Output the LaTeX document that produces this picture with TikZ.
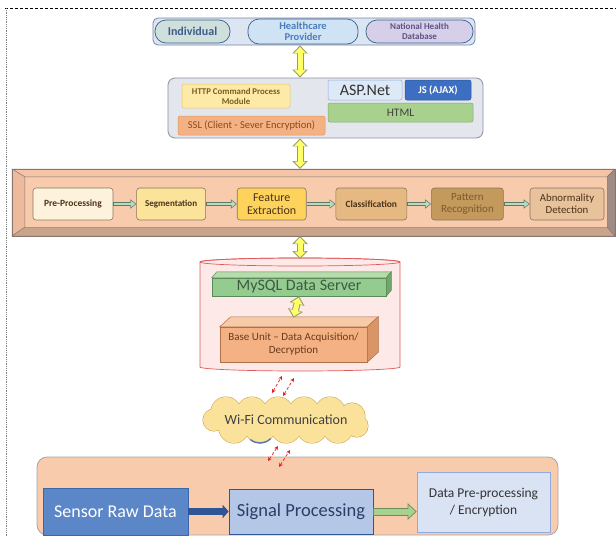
\documentclass[tikz,border=0pt]{standalone}
\usepackage{fontspec}
\setmainfont{Carlito}
\usepackage{xcolor}
\usepackage{tikz}
\usetikzlibrary{arrows.meta}
\usetikzlibrary{positioning}
\usetikzlibrary{shapes}
\usetikzlibrary{calc}

\definecolor{barfill}{HTML}{DCE6F2}
\definecolor{barline}{HTML}{6F87A8}
\definecolor{pillline}{HTML}{3F5D8A}
\definecolor{indfill}{HTML}{CFDFDB}
\definecolor{hcfill}{HTML}{CFE3F5}
\definecolor{hctext}{HTML}{4A7EBB}
\definecolor{nhfill}{HTML}{D6CFE9}
\definecolor{nhtext}{HTML}{5C5383}
\definecolor{webfill}{HTML}{E4E6EE}
\definecolor{webline}{HTML}{8A8F9E}
\definecolor{httpfill}{HTML}{FDE9A8}
\definecolor{httpline}{HTML}{E2C46A}
\definecolor{httptext}{HTML}{7B5D1C}
\definecolor{sslfill}{HTML}{F4B183}
\definecolor{ssltext}{HTML}{8C4A1C}
\definecolor{aspfill}{HTML}{DDE9F7}
\definecolor{aspline}{HTML}{8FB0D8}
\definecolor{jsfill}{HTML}{3C6FC2}
\definecolor{htmlfill}{HTML}{A9D18E}
\definecolor{htmlline}{HTML}{7FA96A}
\definecolor{yfill}{HTML}{FFFF66}
\definecolor{yline}{HTML}{9A9A70}
\definecolor{face}{HTML}{F8CBAD}
\definecolor{bevtop}{HTML}{F3C4A5}
\definecolor{bevleft}{HTML}{EDBB9C}
\definecolor{bevbot}{HTML}{C9A38A}
\definecolor{bevright}{HTML}{A08C86}
\definecolor{bevline}{HTML}{857670}
\definecolor{stageline}{HTML}{8A7460}
\definecolor{stA}{HTML}{FDF3DC}
\definecolor{stB}{HTML}{FCE39A}
\definecolor{stC}{HTML}{FDD35C}
\definecolor{stD}{HTML}{E7B982}
\definecolor{stE}{HTML}{C49A5C}
\definecolor{stF}{HTML}{E8C29B}
\definecolor{sttext}{HTML}{4A3218}
\definecolor{stEtext}{HTML}{7A5A34}
\definecolor{flowline}{HTML}{5B7A66}
\definecolor{flowfill}{HTML}{B9DCC1}
\definecolor{dbfill}{HTML}{FDE9E7}
\definecolor{dbline}{HTML}{E05A5A}
\definecolor{sqlfront}{HTML}{94CB8E}
\definecolor{sqltop}{HTML}{B5DCAA}
\definecolor{sqlside}{HTML}{6FA86A}
\definecolor{sqlline}{HTML}{5C8A5C}
\definecolor{sqltext}{HTML}{3F5A45}
\definecolor{basefront}{HTML}{F4B183}
\definecolor{basetop}{HTML}{F8CBA8}
\definecolor{baseside}{HTML}{D99566}
\definecolor{baseline}{HTML}{B0704A}
\definecolor{basetext}{HTML}{6B3A1C}
\definecolor{zapred}{HTML}{E02020}
\definecolor{cloudfill}{HTML}{FBE29B}
\definecolor{cloudline}{HTML}{C9A045}
\definecolor{sensfill}{HTML}{5B86C8}
\definecolor{sensline}{HTML}{3D66A6}
\definecolor{sigfill}{HTML}{B4C7E7}
\definecolor{sigline}{HTML}{2F5597}
\definecolor{sigtext}{HTML}{2A3F66}
\definecolor{prefill}{HTML}{DAE3F3}
\definecolor{preline}{HTML}{8FAADC}
\definecolor{bigline}{HTML}{6A8F5A}

\begin{document}
\begin{tikzpicture}[x=1pt,y=-1pt,
  every node/.style={align=center, inner sep=1pt},
  pill/.style={draw=pillline, rounded corners=11pt, line width=0.7pt},
  webbox/.style={draw, rectangle, rounded corners=2pt, line width=0.5pt},
  stage/.style={draw=stageline, rectangle, rounded corners=3pt, minimum height=32pt, line width=0.6pt, text=sttext, font=\fontsize{9.5}{11}\selectfont\bfseries},
  yarrow/.style={preaction={draw=yline, line width=7pt, shorten >=0pt, shorten <=0pt, {Triangle[length=8pt,width=15pt]}-{Triangle[length=8pt,width=15pt]}}, draw=yfill, line width=5pt, shorten >=1.5pt, shorten <=1.5pt, {Triangle[length=6pt,width=11pt]}-{Triangle[length=6pt,width=11pt]}},
  flow/.style={preaction={draw=flowline, line width=4pt, shorten >=0pt, shorten <=0pt, -{Triangle[length=6pt,width=9pt]}}, draw=flowfill, line width=2.2pt, shorten >=1.1pt, shorten <=0.9pt, -{Triangle[length=4.3pt,width=6.4pt]}},
  bigflow/.style={preaction={draw=bigline, line width=8pt, shorten >=0pt, shorten <=0pt, -{Triangle[length=9pt,width=16pt]}}, draw=htmlfill, line width=6pt, shorten >=1.3pt, shorten <=1pt, -{Triangle[length=7pt,width=12.5pt]}},
  zap/.style={draw=zapred, densely dashed, line width=0.7pt, {Stealth[length=4pt,width=4pt]}-{Stealth[length=4pt,width=4pt]}}]

\useasboundingbox (0,0) rectangle (616,536);
\draw[densely dashed, line width=0.6pt] (5,8) -- (616,8);
\draw[gray, densely dotted, line width=0.8pt] (6,8) -- (6,536);

\node[draw=barline, fill=barfill, rounded corners=5pt, line width=0.8pt, minimum width=322pt, minimum height=27pt] (topbar) at (314,31.5) {};
\node[pill, fill=indfill, text=pillline, minimum width=75pt, minimum height=23pt, font=\fontsize{12}{13}\selectfont\bfseries] (ind) at (192.5,31.5) {Individual};
\node[pill, fill=hcfill, text=hctext, minimum width=110pt, minimum height=25pt, font=\fontsize{10.5}{11.5}\selectfont\bfseries] (hc) at (303,31.5) {Healthcare\\Provider};
\node[pill, fill=nhfill, text=nhtext, minimum width=107pt, minimum height=23pt, font=\fontsize{9}{10}\selectfont\bfseries] (nh) at (419.5,31.5) {National Health\\Database};

\node[draw=webline, fill=webfill, rounded corners=7pt, line width=0.8pt, minimum width=315pt, minimum height=60pt] (web) at (325.5,108) {};
\node[webbox, draw=httpline, fill=httpfill, text=httptext, minimum width=108pt, minimum height=24pt, font=\fontsize{8.8}{10}\selectfont\bfseries] (http) at (236,96) {HTTP Command Process\\Module};
\node[webbox, draw=baseside, fill=sslfill, text=ssltext, minimum width=147pt, minimum height=19pt, font=\fontsize{10.5}{11}\selectfont] (ssl) at (251.5,125.5) {SSL (Client - Sever Encryption)};
\node[webbox, draw=aspline, fill=aspfill, text=black!80, minimum width=74pt, minimum height=20pt, font=\fontsize{16}{16}\selectfont] (asp) at (365,90) {ASP.Net};
\node[webbox, draw=sigline, fill=jsfill, text=white, minimum width=66pt, minimum height=20pt, font=\fontsize{10.5}{11}\selectfont\bfseries] (js) at (438,90) {JS (AJAX)};
\node[webbox, draw=htmlline, fill=htmlfill, text=black!75, minimum width=145pt, minimum height=19pt, font=\fontsize{11.5}{12}\selectfont] (html) at (400.5,112.5) {HTML};

\coordinate (o1) at (12,169);
\coordinate (o2) at (615,169);
\coordinate (o3) at (615,236);
\coordinate (o4) at (12,236);
\node[fill=face, minimum width=582pt, minimum height=50pt] (panel) at (316,202) {};
\filldraw[bevtop, draw=bevline, line width=0.4pt] (o1) -- (o2) -- (panel.north east) -- (panel.north west) -- cycle;
\filldraw[bevleft, draw=bevline, line width=0.4pt] (o1) -- (panel.north west) -- (panel.south west) -- (o4) -- cycle;
\filldraw[bevbot, draw=bevline, line width=0.4pt] (o4) -- (panel.south west) -- (panel.south east) -- (o3) -- cycle;
\filldraw[bevright, draw=bevline, line width=0.4pt] (o2) -- (o3) -- (panel.south east) -- (panel.north east) -- cycle;
\draw[bevline, line width=0.9pt] (o1) rectangle (o3);

\node[stage, fill=stA, minimum width=80pt] (pre) at (73,204) {Pre-Processing};
\node[stage, fill=stB, minimum width=69pt, right=23pt of pre, font=\fontsize{9}{11}\selectfont\bfseries] (seg) {Segmentation};
\node[stage, fill=stC, minimum width=69pt, right=31pt of seg, font=\fontsize{12}{13.5}\selectfont] (feat) {Feature\\Extraction};
\node[stage, fill=stD, minimum width=71pt, right=29pt of feat] (cls) {Classification};
\node[stage, fill=stE, minimum width=72pt, right=24pt of cls, text=stEtext, font=\fontsize{11}{12.5}\selectfont] (pat) {Pattern\\Recognition};
\node[stage, fill=stF, minimum width=74pt, right=26pt of pat, font=\fontsize{10.8}{12.5}\selectfont] (abn) {Abnormality\\Detection};
\draw[flow] (pre) -- (seg);
\draw[flow] (seg) -- (feat);
\draw[flow] (feat) -- (cls);
\draw[flow] (cls) -- (pat);
\draw[flow] (pat) -- (abn);

\coordinate (cyl) at (300,262);
\filldraw[draw=dbline, fill=dbfill, line width=0.7pt] (200,262) -- (200,367) arc[start angle=180, end angle=0, x radius=100, y radius=4] -- (400,262) arc[start angle=0, end angle=-180, x radius=100, y radius=4] -- cycle;
\draw[dbline, line width=0.7pt] (cyl) ellipse[x radius=100, y radius=4];

\node[draw=sqlline, fill=sqlfront, text=sqltext, minimum width=174pt, minimum height=18pt, line width=0.5pt, font=\fontsize{16}{16}\selectfont] (sql) at (299,287) {MySQL Data Server};
\filldraw[sqltop, draw=sqlline, line width=0.5pt] (sql.north west) -- ++(5,-6) -- ($(sql.north east)+(5,-6)$) -- (sql.north east) -- cycle;
\filldraw[sqlside, draw=sqlline, line width=0.5pt] (sql.north east) -- ++(5,-6) -- ($(sql.south east)+(5,-6)$) -- (sql.south east) -- cycle;

\node[draw=baseline, fill=basefront, text=basetext, minimum width=147pt, minimum height=35pt, line width=0.5pt, font=\fontsize{11}{13}\selectfont] (base) at (293.5,344.5) {Base Unit -- Data Acquisition/\\Decryption};
\filldraw[basetop, draw=baseline, line width=0.5pt] (base.north west) -- ++(11,-10) -- ($(base.north east)+(11,-10)$) -- (base.north east) -- cycle;
\filldraw[baseside, draw=baseline, line width=0.5pt] (base.north east) -- ++(11,-10) -- ($(base.south east)+(11,-10)$) -- (base.south east) -- cycle;

\draw[yarrow] (topbar.south -| cyl) -- (web.north -| cyl);
\draw[yarrow] (web.south -| cyl) -- (o1 -| cyl);
\draw[yarrow] (o4 -| cyl) -- ([yshift=3pt]cyl);
\draw[yarrow] (sql.south) -- ([yshift=9pt]base.north);

\foreach \cx/\cy/\r in {226/412/15, 252/412/15, 278/412/15, 304/412/15, 330/412/15, 352/416/13, 214/420/11, 357/426/11, 234/428/15, 260/428/15, 286/428/15, 312/428/15, 338/428/15}
  \draw[cloudline, line width=1pt] (\cx,\cy) circle[radius=\r];
\foreach \cx/\cy/\r in {226/412/15, 252/412/15, 278/412/15, 304/412/15, 330/412/15, 352/416/13, 214/420/11, 357/426/11, 234/428/15, 260/428/15, 286/428/15, 312/428/15, 338/428/15}
  \fill[cloudfill] (\cx,\cy) circle[radius=\r];
\fill[cloudfill] (286,420) ellipse[x radius=66, y radius=9];
\draw[sigline!80, line width=1.4pt] (260,428) ++(130:15) arc[start angle=130, end angle=45, radius=15];
\node[text=black!75, font=\fontsize{14}{15}\selectfont] (wifi) at (286,420) {Wi-Fi Communication};

\node[draw=gray!70, fill=face, rounded corners=10pt, line width=0.8pt, minimum width=521pt, minimum height=78pt] (sensbox) at (297.5,496) {};
\node[draw=sensline, fill=sensfill, text=white, minimum width=145pt, minimum height=47pt, line width=0.6pt, font=\fontsize{18}{20}\selectfont] (sensor) at (115.5,511.5) {Sensor Raw Data};
\node[draw=sigline, fill=sigfill, text=sigtext, minimum width=144pt, minimum height=45pt, line width=0.6pt, font=\fontsize{18.5}{20}\selectfont] (signal) at (301,511.5) {Signal Processing};
\node[draw=preline, fill=prefill, text=black!80, minimum width=133pt, minimum height=60pt, line width=0.6pt, font=\fontsize{13.5}{17}\selectfont] (datapre) at (483.5,502) {Data Pre-processing\\/ Encryption};
\draw[draw=sigline, line width=7pt, -{Triangle[length=6pt,width=13pt]}] (sensor) -- (signal);
\draw[bigflow] (signal.east) -- (signal.east -| datapre.west);

\coordinate (z1) at (272,393);
\coordinate (z2) at (282,376);
\coordinate (z3) at (283,396);
\coordinate (z4) at (294,378);
\coordinate (z5) at (268,461);
\coordinate (z6) at (278,446);
\coordinate (z7) at (279,467);
\coordinate (z8) at (290,450);
\draw[zap] (z1) -- (z2);
\draw[zap] (z3) -- (z4);
\draw[zap] (z5) -- (z6);
\draw[zap] (z7) -- (z8);
\end{tikzpicture}
\end{document}
